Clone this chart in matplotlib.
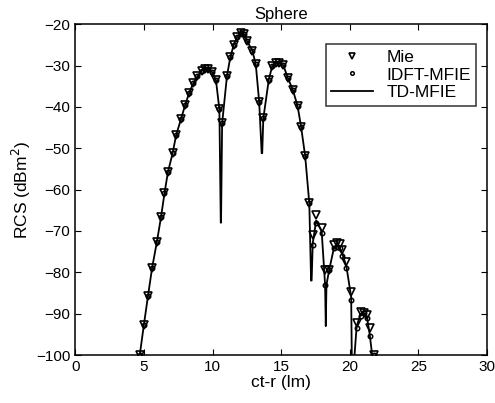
import matplotlib
matplotlib.use("Agg")
import matplotlib.pyplot as plt

plt.rcParams["font.family"] = ["Liberation Sans", "DejaVu Sans"]

# Mie series (markers only)
mie_x = [4.7, 5.0, 5.3, 5.6, 5.95, 6.25, 6.5, 6.75, 7.1, 7.35, 7.7, 8.0, 8.3, 8.6,
         8.9, 9.2, 9.45, 9.7, 9.95, 10.25, 10.5, 10.7, 11.05, 11.3, 11.55, 11.8,
         12.05, 12.3, 12.5, 12.9, 13.15, 13.4, 13.65, 14.1, 14.35, 14.6, 14.85,
         15.15, 15.5, 15.85, 16.2, 16.45, 16.75, 17.05, 17.3, 17.55, 17.95, 18.2,
         18.5, 18.85, 19.05, 19.25, 19.45, 19.75, 20.1, 20.5, 20.8, 21.0, 21.25,
         21.45, 21.75]
mie_y = [-100, -92.7, -85.7, -78.9, -72.6, -66.6, -60.9, -55.8, -51.1, -46.8, -43.0,
         -39.6, -36.6, -34.3, -32.6, -31.3, -30.9, -30.9, -31.5, -33.5, -40.6, -44.0,
         -32.6, -27.9, -25.0, -23.0, -22.2, -22.4, -24.0, -26.4, -29.7, -38.8, -42.8,
         -33.4, -30.1, -29.3, -29.3, -29.9, -33.1, -35.9, -39.8, -44.8, -51.9, -63.3,
         -71.0, -66.1, -69.3, -79.4, -79.4, -73.4, -73.0, -73.2, -74.6, -77.5, -84.7,
         -92.3, -89.5, -89.9, -90.3, -93.5, -100]

# IDFT-MFIE series (markers only)
idft_x = mie_x
idft_y = [-100, -92.7, -85.7, -78.9, -72.6, -66.6, -60.9, -55.8, -51.1, -46.8, -43.0,
          -39.6, -36.6, -34.3, -32.6, -31.3, -30.9, -30.9, -31.5, -33.5, -40.6, -44.0,
          -32.6, -27.9, -25.0, -23.0, -22.2, -22.4, -24.0, -26.4, -29.7, -38.8, -42.8,
          -33.4, -30.1, -29.3, -29.3, -29.9, -33.1, -35.9, -39.8, -44.8, -51.9, -63.3,
          -73.5, -68.1, -70.5, -83.0, -79.4, -74.0, -73.8, -74.0, -76.0, -79.0, -86.7,
          -93.5, -90.5, -89.9, -91.0, -95.4, -100]

# TD-MFIE (line), with the deep nulls
td_x = [4.6, 4.7, 5.0, 5.3, 5.6, 5.95, 6.25, 6.5, 6.75, 7.1, 7.35, 7.7, 8.0, 8.3, 8.6,
        8.9, 9.2, 9.45, 9.7, 9.95, 10.25, 10.5, 10.6, 10.62, 10.7, 11.05, 11.3,
        11.55, 11.8, 12.05, 12.3, 12.5, 12.9, 13.15, 13.4, 13.58, 13.62, 13.7, 14.1,
        14.35, 14.6, 14.85, 15.15, 15.5, 15.85, 16.2, 16.45, 16.75, 17.05, 17.18,
        17.22, 17.3, 17.55, 17.95, 18.2, 18.25, 18.3, 18.5, 18.85, 19.05, 19.25,
        19.45, 19.75, 20.1, 20.15, 20.3, 20.5, 20.8, 21.0, 21.25, 21.45, 21.7, 21.8]
td_y = [-102, -100, -92.7, -85.7, -78.9, -72.6, -66.6, -60.9, -55.8, -51.1, -46.8,
        -43.0, -39.6, -36.6, -34.3, -32.6, -31.3, -30.9, -30.9, -31.5, -33.5, -40.6,
        -68.0, -68.0, -44.0, -32.6, -27.9, -25.0, -23.0, -22.2, -22.4, -24.0, -26.4,
        -29.7, -38.8, -51.2, -51.2, -42.8, -33.4, -30.1, -29.3, -29.3, -29.9, -33.1,
        -35.9, -39.8, -44.8, -51.9, -63.3, -82.0, -82.0, -73.0, -67.5, -70.0, -83.0,
        -93.0, -83.0, -79.4, -74.0, -73.5, -73.8, -75.5, -78.5, -86.0, -102, -102,
        -93.0, -90.0, -89.9, -90.8, -95.0, -102, -102]

fig = plt.figure(figsize=(4.95, 4.03), dpi=100)
ax = fig.add_axes([0.152, 0.119, 0.832, 0.821])

ax.plot(mie_x, mie_y, "v", ms=5.5, mfc="none", mec="black", mew=1.2, label="Mie")
ax.plot(idft_x, idft_y, "o", ms=3.2, mfc="none", mec="black", mew=1.1, label="IDFT-MFIE")
ax.plot(td_x, td_y, "-", color="black", lw=1.3, label="TD-MFIE")

ax.set_xlim(0, 30)
ax.set_ylim(-100, -20)
ax.set_xticks([0, 5, 10, 15, 20, 25, 30])
ax.set_yticks(range(-100, -19, 10))
ax.tick_params(direction="in", top=True, right=True, labelsize=11, length=4)
for s in ax.spines.values():
    s.set_linewidth(1.1)

ax.set_title("Sphere", fontsize=12, pad=4)
ax.set_xlabel("ct-r (lm)", fontsize=12.5, labelpad=1)
ax.set_ylabel("RCS (dBm$^2$)", fontsize=12.5, labelpad=2)

leg = ax.legend(loc="upper right", fontsize=12.5, frameon=True, fancybox=False,
                edgecolor="black", handlelength=2.4, borderpad=0.3, labelspacing=0.15,
                markerscale=0.8, bbox_to_anchor=(0.995, 0.965))
leg.get_frame().set_linewidth(1.1)

fig.savefig("out.png", dpi=100)
